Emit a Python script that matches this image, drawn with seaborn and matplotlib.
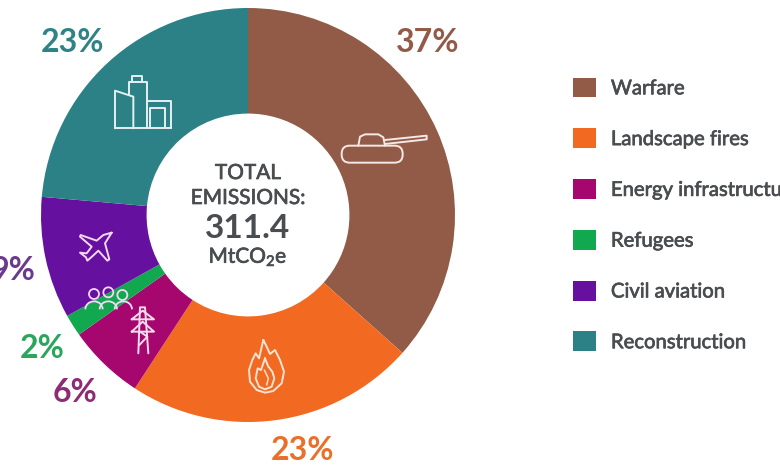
import matplotlib.pyplot as plt
import matplotlib.patches as mpatches
import matplotlib.patheffects as pe
import seaborn as sns

categories = ["Warfare", "Landscape fires", "Energy infrastructure", "Refugees", "Civil aviation", "Reconstruction"]
shares = [36.6, 22.6, 6.0, 1.7, 9.5, 23.6]
share_labels = ["37%", "23%", "6%", "2%", "9%", "23%"]
colors = ["#925b48", "#f26a21", "#a5076e", "#12a84f", "#66109f", "#2b8185"]
label_colors = ["#925b48", "#ea6f2a", "#8f2a75", "#2aa65a", "#6b3a8e", "#2f8285"]
label_xy = [(428, 43), (303, 451), (75, 393), (42, 349), (13, 270), (72, 42)]

W, H = 780, 470
CX, CY, R = 248, 215, 207
TEXT = "#4a4d50"

sns.set_theme(style="white")
plt.rcParams["font.family"] = ["Lato", "DejaVu Sans"]
plt.rcParams["mathtext.default"] = "regular"
palette = sns.color_palette(colors)

fig = plt.figure(figsize=(W / 100, H / 100), dpi=100)
ax = fig.add_axes([(CX - R) / W, 1 - (CY + R) / H, 2 * R / W, 2 * R / H])
wedges, _ = ax.pie(shares, colors=palette, startangle=90, counterclock=False, radius=1,
                   wedgeprops={"width": 0.51, "linewidth": 0})
ax.set_xlim(-1, 1)
ax.set_ylim(-1, 1)

heavier = [pe.withStroke(linewidth=0.5, foreground=TEXT)]

# legend squares come from the wedges
fs = 14.6
leg = fig.legend(wedges, categories, loc="upper left", bbox_to_anchor=(573 / W, 1 - 77.5 / H),
                 frameon=False, fontsize=fs, handlelength=1.13, handleheight=1.13,
                 handletextpad=0.74, labelspacing=1.525, borderpad=0, borderaxespad=0,
                 labelcolor=TEXT)
for t in leg.get_texts():
    t.set_path_effects(heavier)

# overlay in pixel coordinates for text and icons
ov = fig.add_axes([0, 0, 1, 1])
ov.set_xlim(0, W)
ov.set_ylim(H, 0)
ov.axis("off")
ov.patch.set_alpha(0)

for lab, (x, y), c in zip(share_labels, label_xy, label_colors):
    ov.text(x, y, lab, color=c, fontsize=23, fontweight="bold", ha="center", va="center")

center = dict(color=TEXT, ha="center", va="center", path_effects=heavier)
ov.text(CX, 173, "TOTAL", fontsize=15, **center)
ov.text(CX, 198, "EMISSIONS:", fontsize=15, **center)
ov.text(CX, 229, "311.4", fontsize=24, fontweight="bold", color=TEXT, ha="center", va="center")
ov.text(CX, 257, "MtCO$_2$e", fontsize=15, **center)


# icons were measured on a 3x crop, so coordinates are divided by 3
def icon_line(points, color="#f4e9e4", lw=1.4, closed=False):
    pts = [(x / 3, y / 3) for x, y in points]
    if closed:
        pts.append(pts[0])
    ov.plot([p[0] for p in pts], [p[1] for p in pts], color=color, lw=lw, solid_joinstyle="round")


# tank
ov.add_patch(mpatches.FancyBboxPatch((1025 / 3, 437 / 3), 183 / 3, 51 / 3, boxstyle="round,pad=0,rounding_size=8",
                                     fill=False, ec="#f4e9e4", lw=1.4))
icon_line([(1075, 437), (1080, 410), (1095, 403), (1135, 403), (1150, 412), (1155, 437)])
icon_line([(1155, 420), (1280, 407), (1280, 418), (1155, 432)])

# buildings
teal = "#e6f0f0"
icon_line([(345, 385), (345, 272), (400, 290), (400, 385)], teal)
icon_line([(388, 285), (388, 246), (440, 246), (440, 385)], teal)
icon_line([(397, 246), (397, 228), (425, 228), (425, 246)], teal)
icon_line([(440, 303), (513, 303), (513, 385)], teal)
icon_line([(450, 385), (450, 323), (495, 323), (495, 385)], teal)
icon_line([(345, 385), (513, 385)], teal)

# plane
pale = "#f3d9f7"
icon_line([(335, 698), (310, 705), (290, 722), (242, 705), (240, 710), (275, 740), (260, 760), (240, 758),
           (258, 772), (262, 782), (278, 768), (295, 752), (322, 782), (328, 778), (315, 730)], pale, closed=True)

# people
for x, y in [(282, 882), (325, 877), (367, 885)]:
    ov.add_patch(mpatches.Circle((x / 3, y / 3), 15 / 3, fill=False, ec=pale, lw=1.3))
for x in [282, 325, 370]:
    ov.add_patch(mpatches.Arc((x / 3, 928 / 3), 52 / 3, 48 / 3, theta1=180, theta2=360, ec=pale, lw=1.3))

# pylon
pink = "#f8dcec"
icon_line([(415, 1060), (420, 922), (435, 922), (445, 1060)], pink)
icon_line([(395, 958), (462, 958), (428, 932)], pink, closed=True)
icon_line([(395, 995), (462, 995), (428, 965)], pink, closed=True)
icon_line([(418, 1035), (442, 1010), (420, 995)], pink)

# flame
fl = "#fbe3d3"
icon_line([(790, 1020), (800, 1040), (810, 1062), (825, 1050), (840, 1080), (852, 1115), (845, 1150), (820, 1173),
           (795, 1178), (770, 1170), (750, 1145), (747, 1110), (757, 1080), (767, 1060), (777, 1075)], fl, closed=True)
icon_line([(795, 1075), (805, 1100), (817, 1115), (823, 1135), (815, 1160), (795, 1168), (777, 1160), (767, 1135),
           (773, 1105), (783, 1110)], fl, closed=True)
icon_line([(793, 1110), (805, 1135), (800, 1155)], fl, lw=1.1)

fig.savefig("out.png", dpi=100)
